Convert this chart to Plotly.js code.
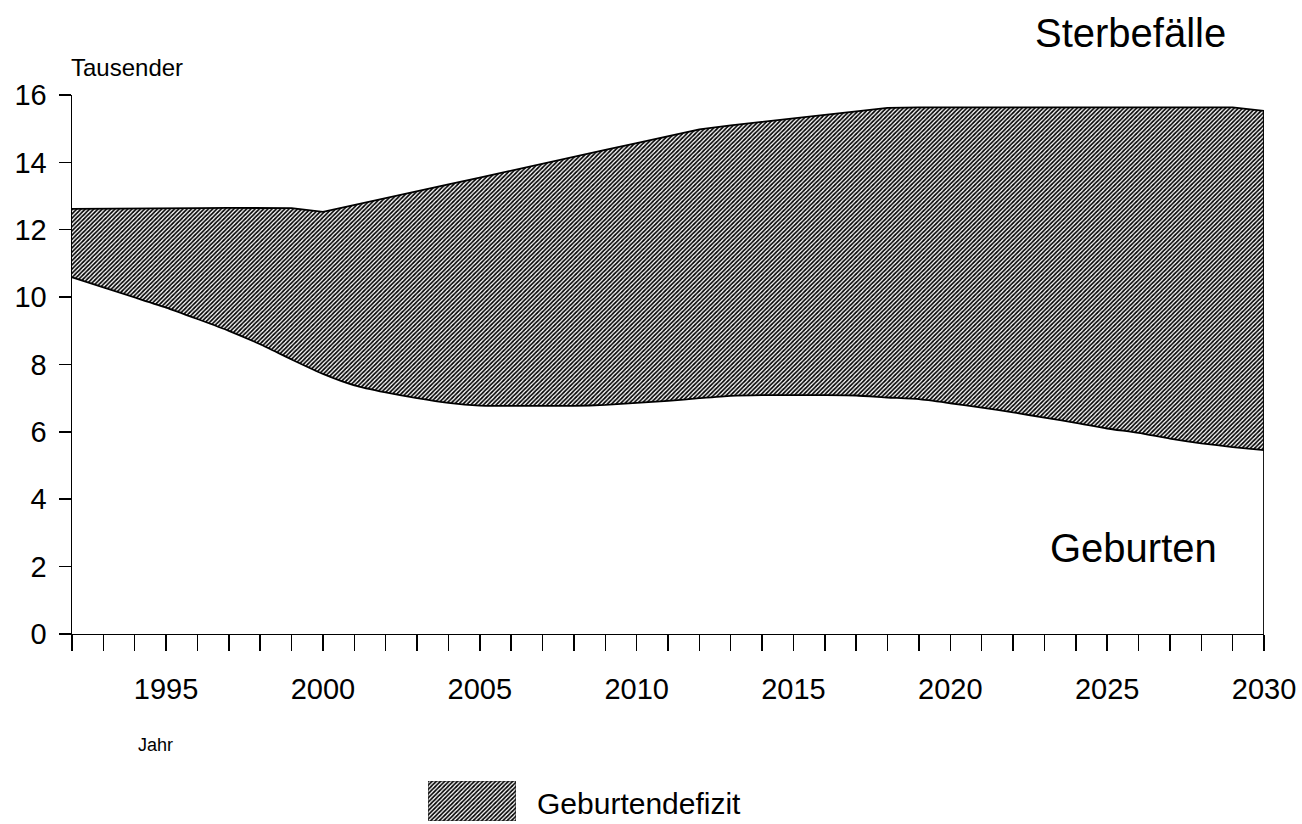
<!DOCTYPE html>
<html>
<head>
<meta charset="utf-8">
<script src="https://cdn.plot.ly/plotly-3.0.1.min.js"></script>
<style>
  html, body { margin: 0; padding: 0; background: #fff; }
  #chart { width: 1302px; height: 824px; }
</style>
</head>
<body>
<div id="chart"></div>
<script>
// Years (x categories)
const years = [1992, 1993, 1994, 1995, 1996, 1997, 1998, 1999, 2000, 2001,
               2002, 2003, 2004, 2005, 2006, 2007, 2008, 2009, 2010, 2011,
               2012, 2013, 2014, 2015, 2016, 2017, 2018, 2019, 2020, 2021,
               2022, 2023, 2024, 2025, 2026, 2027, 2028, 2029, 2030];

// Geburten (births), thousands
const geburten = [10.59, 10.29, 9.99, 9.69, 9.35, 9.00, 8.60, 8.15, 7.72, 7.38,
                  7.17, 7.00, 6.86, 6.78, 6.77, 6.77, 6.77, 6.80, 6.86, 6.92,
                  7.00, 7.07, 7.09, 7.09, 7.09, 7.08, 7.02, 6.97, 6.85, 6.72,
                  6.58, 6.42, 6.27, 6.10, 5.97, 5.80, 5.66, 5.55, 5.46];

// Sterbefälle (deaths), thousands
const sterbefaelle = [12.62, 12.62, 12.63, 12.63, 12.64, 12.65, 12.65, 12.64, 12.53, 12.74,
                      12.94, 13.14, 13.35, 13.55, 13.76, 13.96, 14.16, 14.37, 14.57, 14.78,
                      14.98, 15.10, 15.20, 15.30, 15.40, 15.50, 15.62, 15.63, 15.63, 15.63,
                      15.63, 15.63, 15.63, 15.63, 15.63, 15.63, 15.63, 15.63, 15.53];

// Tick labels
const xLabelYears = [1995, 2000, 2005, 2010, 2015, 2020, 2025, 2030];
const yTickVals = [0, 2, 4, 6, 8, 10, 12, 14, 16];

const FONT = '"Liberation Sans", Arial, Helvetica, sans-serif';
const pattern = { shape: '/', fgcolor: '#000000', bgcolor: '#ffffff', size: 3, solidity: 0.55 };

const xTickText = years.map(y => xLabelYears.includes(y) ? String(y) : '');

const traces = [
  {
    x: years, y: geburten, type: 'scatter', mode: 'lines',
    line: { color: '#000', width: 1.8, shape: 'spline', smoothing: 0.5 },
    name: 'Geburten', showlegend: false, hoverinfo: 'skip'
  },
  {
    x: years, y: sterbefaelle, type: 'scatter', mode: 'lines',
    line: { color: '#000', width: 1.8 },
    fill: 'tonexty', fillcolor: '#ffffff', fillpattern: pattern,
    name: 'Sterbefälle', showlegend: false, hoverinfo: 'skip'
  },
  // legend swatch for "Geburtendefizit", in its own unit axes
  {
    x: [0, 1, 1, 0, 0], y: [0, 0, 1, 1, 0], xaxis: 'x2', yaxis: 'y2',
    type: 'scatter', mode: 'lines', fill: 'toself', fillcolor: '#ffffff',
    fillpattern: pattern, line: { color: '#222', width: 1 },
    showlegend: false, hoverinfo: 'skip'
  }
];

const lastYear = years[years.length - 1];

const layout = {
  width: 1302, height: 824,
  margin: { l: 72, r: 38, t: 0, b: 0 },
  paper_bgcolor: '#fff', plot_bgcolor: 'rgba(0,0,0,0)',
  font: { family: FONT, color: '#000' },
  showlegend: false,
  xaxis: {
    domain: [0, 1], range: [1992, 2030],
    tickmode: 'array', tickvals: years, ticktext: xTickText,
    ticks: 'outside', ticklen: 16, tickwidth: 1.5, tickcolor: '#000',
    showline: true, linecolor: '#000', linewidth: 1.5,
    showgrid: false, zeroline: false,
    tickfont: { family: FONT, size: 29, color: '#000' },
    ticklabelstandoff: 13
  },
  yaxis: {
    domain: [0.2306, 0.8847], range: [0, 16],
    tickmode: 'array', tickvals: yTickVals,
    ticks: 'outside', ticklen: 12, tickwidth: 1.5, tickcolor: '#000',
    showline: true, linecolor: '#000', linewidth: 1.5,
    showgrid: false, zeroline: false,
    tickfont: { family: FONT, size: 29, color: '#000' },
    ticklabelstandoff: 6
  },
  xaxis2: { domain: [0.2987, 0.3725], range: [0, 1], visible: false, anchor: 'y2', fixedrange: true },
  yaxis2: { domain: [0.0036, 0.0522], range: [0, 1], visible: false, anchor: 'x2', fixedrange: true },
  shapes: [
    { type: 'line', xref: 'x', yref: 'y', x0: lastYear, x1: lastYear, y0: 0,
      y1: sterbefaelle[sterbefaelle.length - 1], line: { color: '#000', width: 1.8 } }
  ],
  annotations: [
    { text: 'Tausender', xref: 'paper', yref: 'paper', x: 0, xshift: -3, y: (824 - 68) / 824,
      xanchor: 'left', yanchor: 'middle', showarrow: false, font: { family: FONT, size: 24 } },
    { text: 'Sterbefälle', xref: 'paper', yref: 'paper', x: (1130 - 72) / 1192, y: (824 - 33) / 824,
      xanchor: 'center', yanchor: 'middle', showarrow: false, font: { family: FONT, size: 40 } },
    { text: 'Geburten', xref: 'paper', yref: 'paper', x: (1133 - 72) / 1192, y: (824 - 548) / 824,
      xanchor: 'center', yanchor: 'middle', showarrow: false, font: { family: FONT, size: 40 } },
    { text: 'Jahr', xref: 'paper', yref: 'paper', x: (136 - 72) / 1192, y: (824 - 745) / 824,
      xanchor: 'left', yanchor: 'middle', showarrow: false, font: { family: FONT, size: 18 } },
    { text: 'Geburtendefizit', xref: 'paper', yref: 'paper', x: (535 - 72) / 1192, y: (824 - 803) / 824,
      xanchor: 'left', yanchor: 'middle', showarrow: false, font: { family: FONT, size: 30 } }
  ]
};

Plotly.newPlot('chart', traces, layout, { staticPlot: true, displayModeBar: false });
</script>
</body>
</html>
